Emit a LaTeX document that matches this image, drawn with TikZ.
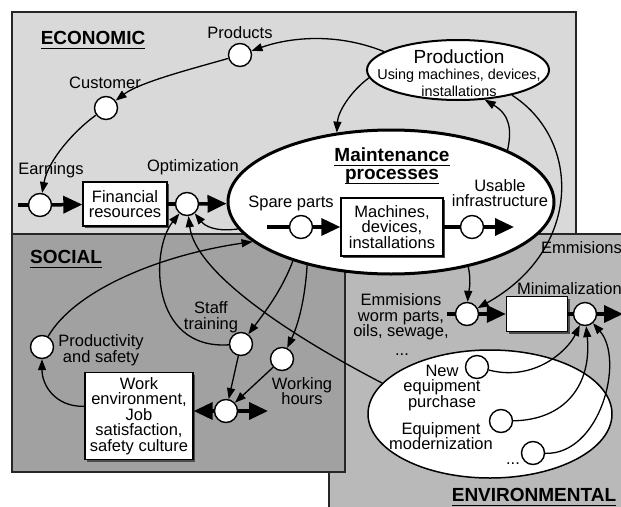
\documentclass[tikz,border=0pt]{standalone}
\usepackage{fontspec}
\setmainfont{Liberation Sans}
\usetikzlibrary{arrows.meta,shapes.geometric,shadows}
\newcommand\hul[1]{\setbox0=\hbox{#1}\leavevmode\rlap{\copy0}\rule[-5pt]{\wd0}{1.6pt}}
\begin{document}
\begin{tikzpicture}[x=1pt,y=-1pt,
 circ/.style={circle,draw,fill=white,line width=1.4pt,minimum size=23pt,inner sep=0pt},
 box/.style={draw,fill=white,line width=1.4pt,inner sep=0pt,drop shadow={shadow xshift=2pt,shadow yshift=-2pt,fill=black!70,opacity=1}},
 lbl/.style={font=\fontsize{16.5}{15.5}\selectfont,align=center,inner sep=0pt},
 heading/.style={font=\fontsize{19}{18}\selectfont\bfseries,align=center,inner sep=0pt},
 bigarrow/.style={line width=3.5pt,-{Triangle[length=19pt,width=17pt]}},
 bigline/.style={line width=3.5pt},
 conn/.style={line width=1.3pt,-{Triangle[length=11pt,width=8pt]}},
 panel/.style={draw=black!85,line width=2.5pt}]

\useasboundingbox (0,0) rectangle (621,506);
\clip (0,0) rectangle (621,506);
\fill[white] (0,0) rectangle (621,506);

% panels
\path[panel,fill=gray!55] (329,234) rectangle (660,540);
\path[panel,fill=gray!30] (12,12) rectangle (576,234);
\path[panel,fill=gray!74] (12,234) rectangle (345,472);

% ellipses
\node[ellipse,draw,fill=white,line width=3pt,minimum width=326pt,minimum height=144pt,inner sep=0pt] (M) at (391,202) {};
\node[ellipse,draw,fill=white,line width=2pt,minimum width=182pt,minimum height=60pt,inner sep=0pt] (P) at (458,70) {};
\node[ellipse,draw,fill=white,line width=1.5pt,minimum width=244pt,minimum height=128pt,inner sep=0pt] (Ev) at (490,414) {};

% headings and labels
\node[heading] (eco) at (93,40) {\hul{ECONOMIC}};
\node[heading] (tsoc) at (66,259) {\hul{SOCIAL}};
\node[heading] (tenv) at (534,497) {\hul{ENVIRONMENTAL}};
\node[heading] (tmp) at (392,166) {\hul{Maintenance}\\\hul{processes}};

\node[lbl] (tprod) at (240,33) {Products};
\node[lbl] (tcust) at (105,83) {Customer};
\node[lbl] (tearn) at (51,170) {Earnings};
\node[lbl] (topt) at (193,167) {Optimization};
\node[lbl] (tspare) at (291,203) {Spare parts};
\node[lbl] (tus) at (500,193) {Usable\\infrastructure};
\node[inner sep=0pt,font=\fontsize{19}{19}\selectfont] (tpr1) at (459,57) {Production};
\node[inner sep=0pt,font=\fontsize{14.4}{15}\selectfont] (tpr2) at (459,76) {Using machines, devices,};
\node[inner sep=0pt,font=\fontsize{14.4}{15}\selectfont] (tpr3) at (459,91) {installations};
\node[lbl,anchor=west] (temis) at (541,248) {Emmisions};
\node[lbl,anchor=west] (tmin) at (517,289) {Minimalization};
\node[lbl] (temw) at (401,317) {Emmisions\\worm parts,\\oils, sewage,};
\node[lbl] (tdots1) at (402,355) {...};
\node[lbl] (tnew) at (442,388) {New\\equipment\\purchase};
\node[lbl] (teqm) at (441,436) {Equipment\\modernization};
\node[lbl] (tdots2) at (513,464) {...};
\node[lbl] (tprodsaf) at (101,350) {Productivity\\and safety};
\node[lbl] (tstaff) at (211,317) {Staff\\training};
\node[lbl] (twork) at (302,391) {Working\\hours};

% boxes
\node[box,lbl,minimum width=84pt,minimum height=44pt] (F) at (125,204) {Financial\\resources};
\node[box,lbl,minimum width=102pt,minimum height=58pt] (Mb) at (392,227) {Machines,\\devices,\\installations};
\node[box,minimum width=61pt,minimum height=35pt] (Mn) at (537,314) {};
\node[box,lbl,minimum width=108pt,minimum height=87pt] (W) at (139,416) {Work\\environment,\\Job\\satisfaction,\\safety culture};

% circles
\node[circ] (E) at (40,205) {};
\node[circ] (O) at (187,204) {};
\node[circ] (Pr) at (240,55) {};
\node[circ] (C) at (106,108) {};
\node[circ] (S) at (301,227) {};
\node[circ] (U) at (472,227) {};
\node[circ] (Em) at (467,314) {};
\node[circ] (Mc) at (585,314) {};
\node[circ] (N1) at (477,367) {};
\node[circ] (N2) at (501,421) {};
\node[circ] (N3) at (533,453) {};
\node[circ] (Pd) at (42,347) {};
\node[circ] (J) at (226,411) {};
\node[circ] (St) at (241,344) {};
\node[circ] (Wh) at (282,359) {};

% free ends
\coordinate (es) at (18,205);
\coordinate (ss) at (267,227);
\coordinate (ue) at (514,227);
\coordinate (emst) at (447,314);
\coordinate (mce) at (623,314);
\coordinate (jr) at (268,411);

% thick flow
\draw[bigline] (es) -- (E);
\draw[bigarrow] (E) -- (F);
\draw[bigline] (F) -- (O);
\draw[bigarrow] (O) -- (M);
\draw[bigline] (ss) -- (S);
\draw[bigarrow] (S) -- (Mb);
\draw[bigline] (Mb) -- (U);
\draw[bigarrow] (U) -- (ue);
\draw[bigline] (emst) -- (Em);
\draw[bigarrow] (Em) -- (Mn);
\draw[bigline] (Mn) -- (Mc);
\draw[bigarrow] (Mc) -- (mce);
\draw[bigarrow] (J) -- (J -| W.east);
\draw[bigarrow] (J) -- (jr);

% thin connectors
\draw[conn] (P.166) .. controls (330,30) and (282,40) .. (Pr);
\draw[conn] (Pr) .. controls (195,68) and (140,82) .. (C);
\draw[conn] (C) .. controls (75,130) and (48,160) .. (E);
\draw[conn] (P.185) .. controls (350,92) and (338,112) .. (M.128);
\draw[conn] (M.24) .. controls (512,130) and (510,115) .. (P.312);
\draw[conn] (P.335) .. controls (582,140) and (582,250) .. (Em);
\draw[conn] (M.320) .. controls (472,285) and (468,295) .. (Em);
\draw[conn] (M.211) .. controls (282,290) and (265,312) .. (St);
\draw[conn] (M.217) .. controls (305,300) and (298,325) .. (Wh);
\draw[conn] (St) -- (J);
\draw[conn] (Wh) -- (J);
\draw[conn] (W.170) .. controls (55,407) and (42,385) .. (Pd);
\draw[conn] (Pd) .. controls (75,290) and (160,255) .. (M.196);
\draw[conn] (St) .. controls (150,350) and (150,250) .. (O);
\draw[conn] (Ev.164) .. controls (280,330) and (195,270) .. (O);
\draw[conn] (M.190) .. controls (215,232) and (205,226) .. (O);
\draw[conn] (N1) .. controls (535,382) and (568,350) .. (Mc);
\draw[conn] (N2) .. controls (565,420) and (592,385) .. (Mc);
\draw[conn] (N3) .. controls (600,455) and (625,360) .. (Mc);
\end{tikzpicture}
\end{document}
